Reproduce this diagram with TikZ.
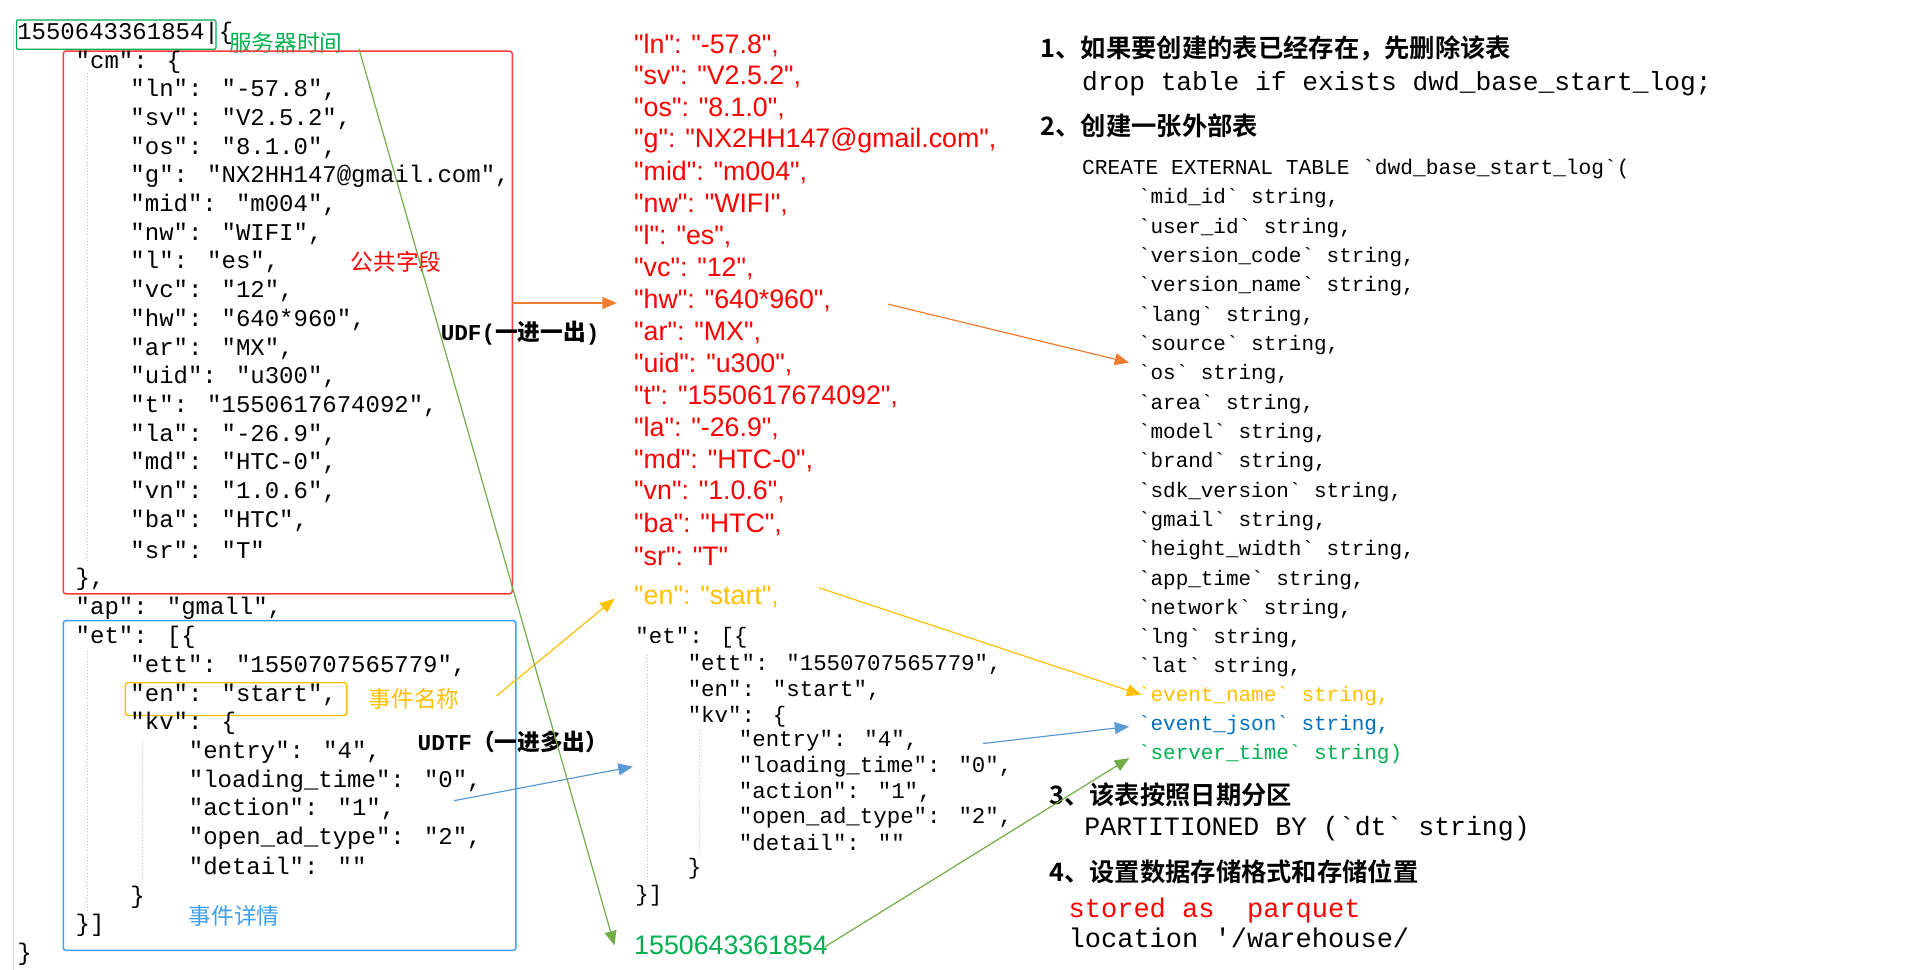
\documentclass[tikz,border=0pt]{standalone}
\usepackage{fontspec}
\newfontfamily\arial{Liberation Sans}
\newfontfamily\mono{Liberation Mono}
\newfontfamily\cjk{Noto Sans CJK SC}
\newfontfamily\cjkb{Noto Sans CJK SC Bold}
\usetikzlibrary{arrows.meta}
\definecolor{cred}{HTML}{FF0000}
\definecolor{bred}{HTML}{FF3B3B}
\definecolor{cgreen}{HTML}{00B050}
\definecolor{lgreen}{HTML}{70AD47}
\definecolor{corange}{HTML}{ED7D31}
\definecolor{cyellow}{HTML}{FFC000}
\definecolor{cblue}{HTML}{3FA0F0}
\definecolor{dblue}{HTML}{0070C0}
\definecolor{ablue}{HTML}{5B9BD5}
\begin{document}
\begin{tikzpicture}[x=0.923pt,y=-0.923pt,
  txt/.style={anchor=west,inner sep=0pt},
  lc/.style={txt,font=\mono\fontsize{18.2}{18}\selectfont},
  mc/.style={txt,font=\arial\fontsize{20.3}{20}\selectfont,text=cred},
  me/.style={txt,font=\mono\fontsize{17}{18}\selectfont},
  rc/.style={txt,font=\mono\fontsize{15.9}{18}\selectfont},
  hd/.style={txt,font=\cjkb\fontsize{19.2}{20}\selectfont},
  arr/.style={-{Triangle[length=11pt,width=9pt]},line width=0.9pt}]
\useasboundingbox (0,0) rectangle (1568,797);
\fill[white] (0,0) rectangle (1568,797);
% left panel
\draw[gray!30,line width=0.8pt] (11,20) -- (11,797);
\draw[gray!50,dotted] (72,60) -- (72,462);
\draw[gray!50,dotted] (72,535) -- (72,750);
\draw[gray!50,dotted] (117,610) -- (117,722);
\node[draw=cgreen,line width=0.9pt,rounded corners=1pt,minimum width=164*0.923pt,minimum height=24*0.923pt,anchor=north west,inner sep=0pt] (gb) at (13,16) {};
\node[lc] (ts) at (14,27) {1550643361854|\{};
\node[txt,font=\cjk\fontsize{17.2}{18}\selectfont,text=cgreen] (svt) at (188,35) {服务器时间};
\draw[bred,line width=1.1pt,rounded corners=2pt] (52,42) rectangle (421,488);
\node[lc] (cm) at (62,51) {"cm": \{};
\foreach \t [count=\i from 0] in {{"ln": "-57.8",},{"sv": "V2.5.2",},{"os": "8.1.0",},{"g": "NX2HH147@gmail.com",},{"mid": "m004",},{"nw": "WIFI",},{"l": "es",},{"vc": "12",},{"hw": "640*960",},{"ar": "MX",},{"uid": "u300",},{"t": "1550617674092",},{"la": "-26.9",},{"md": "HTC-0",},{"vn": "1.0.6",},{"ba": "HTC",},{"sr": "T"}}
  \node[lc] (l\i) at (107,{74+23.6*\i}) {\t};
\node[lc] (cmend) at (62,476) {\},};
\node[lc] (ap) at (62,500) {"ap": "gmall",};
\node[txt,font=\cjk\fontsize{17.2}{18}\selectfont,text=cred] (ggzd) at (288,215) {公共字段};
\draw[cblue,line width=1.1pt,rounded corners=2pt] (52,510) rectangle (424,781);
\node[lc] (et) at (62,524) {"et": [\{};
\node[lc] (ett) at (107,547) {"ett": "1550707565779",};
\draw[cyellow,line width=1.1pt,rounded corners=2pt] (103,561) rectangle (285,588);
\node[lc] (en) at (107,571) {"en": "start",};
\node[txt,font=\cjk\fontsize{17.2}{18}\selectfont,text=cyellow] (sjmc) at (303,574) {事件名称};
\node[lc] (kv) at (107,594) {"kv": \{};
\node[lc] (k1) at (155,618) {"entry": "4",};
\node[lc] (k2) at (155,642) {"loading\_time": "0",};
\node[lc] (k3) at (155,665) {"action": "1",};
\node[lc] (k4) at (155,689) {"open\_ad\_type": "2",};
\node[lc] (k5) at (155,712) {"detail": ""};
\node[lc] (kvend) at (107,737) {\}};
\node[lc] (etend) at (62,760) {\}]};
\node[txt,font=\cjk\fontsize{17.2}{18}\selectfont,text=cblue] (sjxq) at (155,753) {事件详情};
\node[lc] (allend) at (14,784) {\}};
\node[txt,font=\fontsize{17.2}{18}\selectfont\bfseries] (udf) at (362,274) {{\mono\bfseries UDF(}{\cjk 一进一出}{\mono\bfseries )}};
\node[txt,font=\fontsize{17.2}{18}\selectfont\bfseries] (udtf) at (343,610) {{\mono\bfseries UDTF}{\cjk （一进多出）}};
% middle
\foreach \t [count=\i from 0] in {{"ln": "-57.8",},{"sv": "V2.5.2",},{"os": "8.1.0",},{"g": "NX2HH147@gmail.com",},{"mid": "m004",},{"nw": "WIFI",},{"l": "es",},{"vc": "12",},{"hw": "640*960",},{"ar": "MX",},{"uid": "u300",},{"t": "1550617674092",},{"la": "-26.9",},{"md": "HTC-0",},{"vn": "1.0.6",},{"ba": "HTC",},{"sr": "T"}}
  \node[mc] (m\i) at (521,{37+26.25*\i}) {\t};
\node[mc,text=cyellow] (men) at (521,491) {"en": "start",};
\node[me] (met) at (522,524) {"et": [\{};
\node[me] (mett) at (565,546) {"ett": "1550707565779",};
\node[me] (men2) at (565,567) {"en": "start",};
\node[me] (mkv) at (565,589) {"kv": \{};
\node[me] (mk1) at (607,609) {"entry": "4",};
\node[me] (mk2) at (607,630) {"loading\_time": "0",};
\node[me] (mk3) at (607,651) {"action": "1",};
\node[me] (mk4) at (607,672) {"open\_ad\_type": "2",};
\node[me] (mk5) at (607,692) {"detail": ""};
\node[me] (mkvend) at (565,714) {\}};
\node[me] (metend) at (522,736) {\}]};
\draw[gray!50,dotted] (532,538) -- (532,728);
\draw[gray!50,dotted] (575,600) -- (575,706);
\node[mc,text=cgreen] (mts) at (521,777) {1550643361854};
% right
\node[hd] (h1) at (855,40) {1、如果要创建的表已经存在，先删除该表};
\node[txt,font=\mono\fontsize{19.9}{20}\selectfont] (drop) at (889,69) {drop table if exists dwd\_base\_start\_log;};
\node[hd] (h2) at (855,103) {2、创建一张外部表};
\node[txt,font=\mono\fontsize{16.1}{18}\selectfont] (ct) at (889,139) {CREATE EXTERNAL TABLE `dwd\_base\_start\_log`(};
\foreach \t [count=\i from 0] in {{`mid\_id` string,},{`user\_id` string,},{`version\_code` string,},{`version\_name` string,},{`lang` string,},{`source` string,},{`os` string,},{`area` string,},{`model` string,},{`brand` string,},{`sdk\_version` string,},{`gmail` string,},{`height\_width` string,},{`app\_time` string,},{`network` string,},{`lng` string,},{`lat` string,}}
  \node[rc] (f\i) at (935,{163+24.1*\i}) {\t};
\node[rc,text=cyellow] (fen) at (935,572) {`event\_name` string,};
\node[rc,text=dblue] (fej) at (935,596) {`event\_json` string,};
\node[rc,text=cgreen] (fst) at (935,620) {`server\_time` string)};
\node[hd] (h3) at (862,653) {3、该表按照日期分区};
\node[txt,font=\mono\fontsize{20.1}{20}\selectfont] (part) at (891,681) {PARTITIONED BY (`dt` string)};
\node[hd] (h4) at (862,716) {4、设置数据存储格式和存储位置};
\node[txt,font=\mono\fontsize{20.5}{20}\selectfont,text=cred] (st) at (878,748) {stored as\ \ parquet};
\node[txt,font=\mono\fontsize{20.5}{20}\selectfont] (loc) at (878,771) {location '/warehouse/};
% arrows
\coordinate (a1s) at (421,249); \coordinate (a1e) at (507,249);
\draw[arr,corange] (a1s) -- (a1e);
\coordinate (a2s) at (730,250); \coordinate (a2e) at (928,298);
\draw[arr,corange] (a2s) -- (a2e);
\coordinate (a3s) at (408,572); \coordinate (a3e) at (505,492);
\draw[arr,cyellow] (a3s) -- (a3e);
\coordinate (a4s) at (673,483); \coordinate (a4e) at (938,571);
\draw[arr,cyellow] (a4s) -- (a4e);
\coordinate (a5s) at (373,658); \coordinate (a5e) at (520,630);
\draw[arr,ablue] (a5s) -- (a5e);
\coordinate (a6s) at (808,611); \coordinate (a6e) at (928,597);
\draw[arr,ablue] (a6s) -- (a6e);
\coordinate (a7s) at (295,40); \coordinate (a7e) at (505,777);
\draw[arr,lgreen] (a7s) -- (a7e);
\coordinate (a8s) at (678,778); \coordinate (a8e) at (928,623);
\draw[arr,lgreen] (a8s) -- (a8e);
\end{tikzpicture}
\end{document}
